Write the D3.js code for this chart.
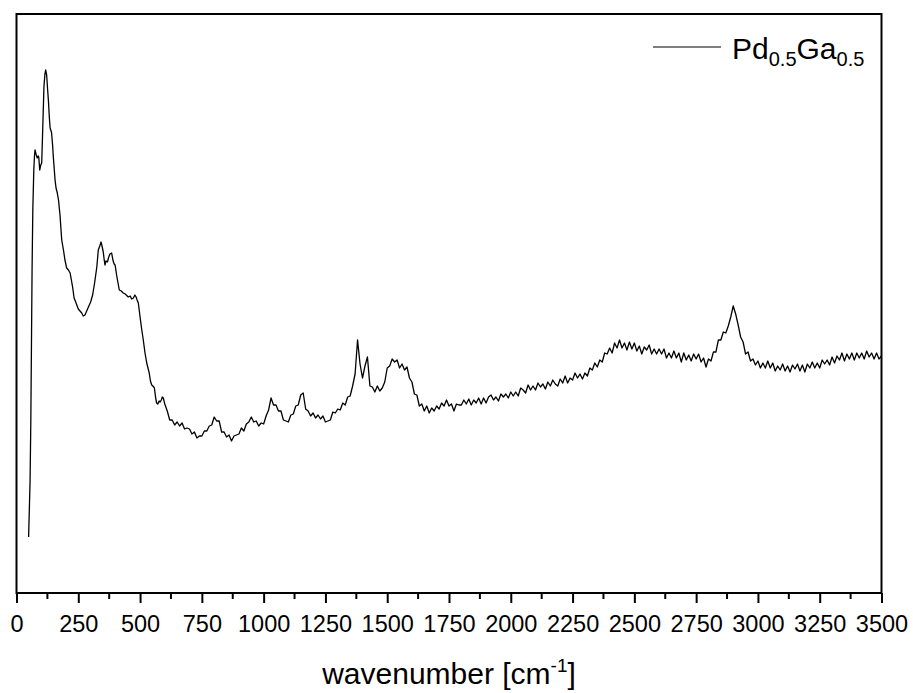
<!DOCTYPE html>
<html>
<head>
  <meta charset="utf-8">
  <script src="https://cdn.jsdelivr.net/npm/d3@7"></script>
  <style>
body {
  margin: 0;
  background: #fff;
}
.frame {
  fill: none;
  stroke: #000;
  stroke-width: 2px;
}
.spectrum {
  fill: none;
  stroke: #000;
  stroke-width: 1.3px;
  stroke-linejoin: round;
}
.tick-label {
  font: 23.5px Arial, "Liberation Sans", sans-serif;
  fill: #000;
}
.axis-title, .legend-text {
  font-family: Arial, "Liberation Sans", sans-serif;
  fill: #000;
}
  </style>
</head>
<body>
  <svg width="913" height="693"></svg>
  <script>

// low wavenumber part, read point by point (sharp features)
const lowWavenumber = [49, 55, 58, 61, 63, 66, 68, 70, 73, 75, 80, 84, 88, 90, 94, 98, 102, 106, 111, 115,
  118, 122, 126, 129, 133, 136, 140, 142, 146, 149, 153, 156, 160, 165, 170, 176, 183, 190, 196, 203,
  210, 217, 222, 227, 233, 238, 244, 250, 257, 264, 270, 277, 284, 291, 300, 308, 316, 325, 331, 337,
  342, 346, 351, 355, 358, 362, 368, 372, 378, 385, 390, 395, 399, 405, 410, 416, 424, 432, 440, 452,
  460, 466, 473, 479, 484, 488, 493, 500, 507, 513, 520, 527, 532, 537, 542, 547, 552, 558, 563, 567,
  572, 577, 581, 586, 590, 594];
const lowIntensity = [56, 113, 173, 263, 323, 383, 403, 423, 438, 443, 438, 435, 437, 436, 423, 428, 430, 463, 506, 519,
  523, 518, 503, 493, 475, 465, 462, 460, 448, 436, 423, 413, 405, 400, 393, 378, 353, 343, 333, 325,
  323, 320, 313, 306, 295, 292, 288, 284, 282, 280, 277, 278, 282, 286, 291, 298, 310, 326, 343, 347,
  351, 347, 341, 333, 328, 332, 331, 335, 339, 340, 333, 329, 328, 318, 311, 303, 302, 300, 299, 296,
  297, 294, 295, 298, 296, 293, 290, 276, 263, 253, 240, 230, 225, 220, 212, 208, 207, 205, 195, 190,
  189, 192, 191, 193, 196, 195];

// rest of the spectrum, one value every 10 cm-1 from 600 to 3500
const gridStart = 600,
      gridStep = 10;
const gridIntensity = [
  189, 182, 173, 173, 168, 171, 167, 170, 164, 165,
  164, 159, 161, 155, 157, 157, 162, 162, 167, 168,
  176, 172, 172, 161, 161, 156, 158, 152, 157, 158,
  159, 165, 162, 169, 171, 176, 171, 172, 167, 170,
  169, 177, 183, 195, 188, 188, 182, 182, 173, 172,
  171, 178, 179, 187, 188, 198, 200, 184, 182, 177,
  180, 175, 178, 174, 177, 171, 172, 173, 181, 180,
  184, 183, 190, 188, 196, 197, 207, 219, 253, 229,
  215, 227, 236, 207, 206, 201, 207, 202, 205, 211,
  225, 227, 234, 231, 233, 225, 229, 223, 226, 215,
  211, 199, 198, 187, 189, 182, 187, 180, 185, 182,
  187, 184, 190, 187, 193, 187, 189, 182, 189, 188,
  188, 193, 189, 194, 188, 193, 190, 195, 189, 195,
  190, 196, 198, 193, 196, 192, 199, 196, 199, 195,
  201, 197, 201, 197, 205, 203, 200, 208, 203, 207,
  203, 210, 206, 209, 204, 211, 207, 213, 209, 207,
  214, 210, 217, 210, 215, 213, 220, 215, 219, 214,
  220, 217, 225, 223, 230, 226, 233, 231, 240, 239,
  245, 240, 250, 245, 253, 245, 250, 243, 251, 244,
  250, 242, 247, 239, 246, 243, 248, 239, 244, 239,
  244, 239, 244, 235, 240, 235, 242, 235, 240, 231,
  240, 233, 238, 232, 239, 234, 239, 231, 235, 226,
  234, 232, 241, 241, 253, 253, 261, 260, 267, 276,
  287, 279, 268, 256, 251, 239, 241, 232, 234, 228,
  232, 225, 230, 225, 232, 225, 230, 222, 227, 223,
  229, 222, 227, 221, 228, 224, 229, 222, 228, 221,
  229, 225, 231, 225, 230, 225, 233, 229, 233, 228,
  236, 230, 237, 233, 240, 232, 239, 234, 240, 233,
  240, 235, 240, 234, 242, 236, 240, 234, 240, 234,
  237];

const xTickValues = [0, 250, 500, 750, 1000, 1250, 1500, 1750, 2000, 2250, 2500, 2750, 3000, 3250, 3500];
const xMinorValues = [125, 375, 625, 875, 1125, 1375, 1625, 1875, 2125, 2375, 2625, 2875, 3125, 3375];
const seriesName = ["Pd", "0.5", "Ga", "0.5"];

var svg = d3.select("svg");

var margin = {left: 16.5, top: 14, right: 31.5, bottom: 100},
    width = 913 - margin.left - margin.right,
    height = 693 - margin.top - margin.bottom;

var x = d3.scaleLinear().domain([0, 3500]).range([margin.left, margin.left + width]);
var y = d3.scaleLinear().domain([0, 579]).range([margin.top + height, margin.top]);

var data = lowWavenumber.map((w, i) => ({w: w, v: lowIntensity[i]}))
  .concat(gridIntensity.map((v, i) => ({w: gridStart + i * gridStep, v: v})));

var line = d3.line()
             .x(d => x(d.w))
             .y(d => y(d.v));

svg.append("path")
   .datum(data)
   .attr("class", "spectrum")
   .attr("d", line);

// bottom axis: major + minor ticks pointing outward
var xAxis = svg.append("g")
               .attr("transform", `translate(0,${margin.top + height})`)
               .call(d3.axisBottom(x).tickValues(xTickValues).tickSize(10).tickFormat(d3.format("d")));
xAxis.select(".domain").remove();
xAxis.selectAll(".tick line").attr("stroke-width", 2);
xAxis.selectAll(".tick text")
     .attr("class", "tick-label")
     .attr("y", 39)
     .attr("dy", null);
xAxis.attr("font-size", null).attr("font-family", null);

svg.append("g")
   .selectAll("line")
   .data(xMinorValues)
   .enter().append("line")
   .attr("x1", d => x(d))
   .attr("x2", d => x(d))
   .attr("y1", margin.top + height)
   .attr("y2", margin.top + height + 6)
   .attr("stroke", "#000")
   .attr("stroke-width", 2);

svg.append("rect")
   .attr("class", "frame")
   .attr("x", margin.left)
   .attr("y", margin.top)
   .attr("width", width)
   .attr("height", height);

// axis title
var title = svg.append("text")
               .attr("class", "axis-title")
               .attr("x", margin.left + width / 2)
               .attr("y", 684)
               .attr("text-anchor", "middle")
               .style("font-size", "30px");
title.append("tspan").text("wavenumber [cm");
title.append("tspan").attr("dy", -12).style("font-size", "19px").text("-1");
title.append("tspan").attr("dy", 12).text("]");

// legend
svg.append("line")
   .attr("x1", 653).attr("x2", 721)
   .attr("y1", 47).attr("y2", 47)
   .attr("stroke", "#000")
   .attr("stroke-width", 1.1);

var legend = svg.append("text")
                .attr("class", "legend-text")
                .attr("x", 732)
                .attr("y", 59)
                .style("font-size", "30px");
seriesName.forEach((s, i) => {
  var sub = i % 2 == 1;
  legend.append("tspan")
        .attr("dy", i == 0 ? 0 : (sub ? 7 : -7))
        .style("font-size", sub ? "20px" : "30px")
        .text(s);
});
</script>
</body>
</html>
